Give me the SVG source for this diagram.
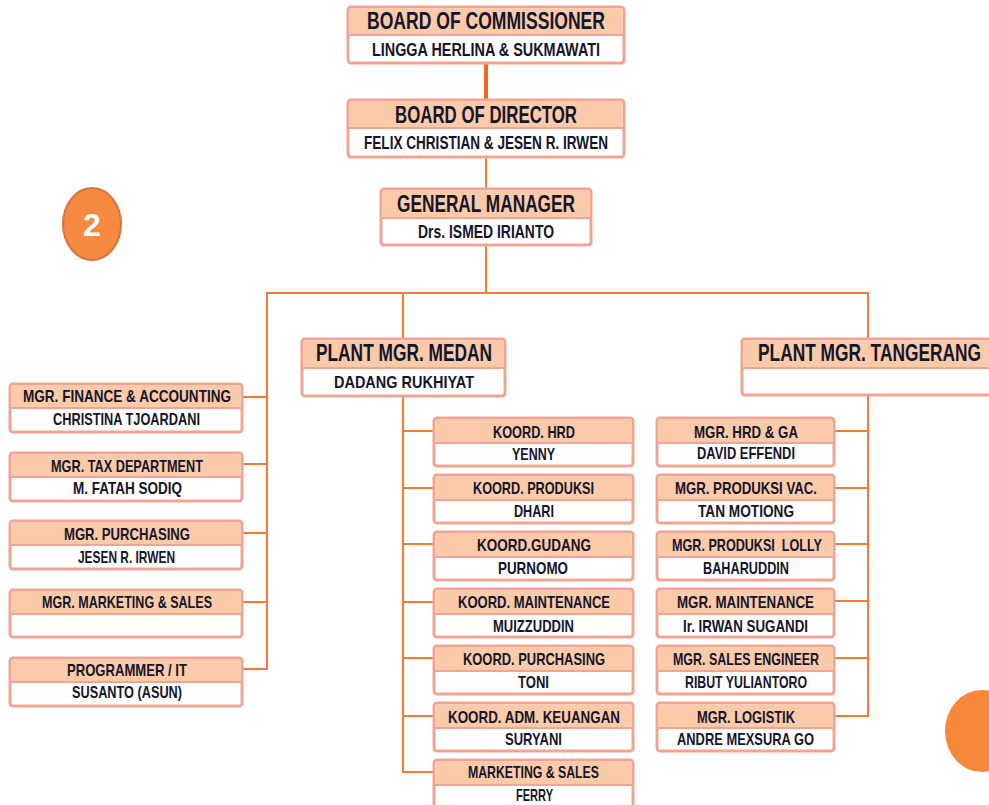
<svg xmlns="http://www.w3.org/2000/svg" width="989" height="805" viewBox="0 0 989 805">
<style>
.box{fill:#ffffff;stroke:#F1A494;stroke-width:3}
.hd{fill:#FBCBA9;stroke:none}
.dv{stroke:#F1A494;stroke-width:2}
.t{font-family:"Liberation Sans",Arial,sans-serif;font-weight:bold;fill:#15152a;text-anchor:middle}
.big{font-size:23px}
.mid{font-size:18px}
.sm{font-size:17px}
.ln{stroke:#F47A36;stroke-width:2;fill:none}
</style>
<rect width="989" height="805" fill="#ffffff"/>
<g id="connectors">
<line x1="486" y1="62" x2="486" y2="100" stroke="#F26A1E" stroke-width="4"/>
<line class="ln" x1="486" y1="157" x2="486" y2="189"/>
<line class="ln" x1="486" y1="245" x2="486" y2="293"/>
<line class="ln" x1="266" y1="293" x2="869" y2="293"/>
<line class="ln" x1="267" y1="293" x2="267" y2="670"/>
<line class="ln" x1="403" y1="293" x2="403" y2="339"/>
<line class="ln" x1="403" y1="396" x2="403" y2="773"/>
<line class="ln" x1="868" y1="293" x2="868" y2="339"/>
<line class="ln" x1="868" y1="395" x2="868" y2="717"/>
<path class="ln" d="M242 397H267M242 464H267M242 533H267M242 602H267M242 669H267"/>
<path class="ln" d="M403 431H434M403 488H434M403 544H434M403 602H434M403 658H434M403 716H434M403 772H434"/>
<path class="ln" d="M834 431H868M834 488H868M834 544H868M834 601H868M834 658H868M834 716H868"/>
</g>
<g id="badge2">
<ellipse cx="92" cy="224" rx="29" ry="36" fill="#F58A40" stroke="#D9733A" stroke-width="2"/>
<text x="92" y="236" font-family="Liberation Sans,Arial,sans-serif" font-size="32" font-weight="bold" fill="#ffffff" text-anchor="middle">2</text>
</g>
<g id="badge-right">
<ellipse cx="982" cy="731" rx="37" ry="41" fill="#F7883A"/>
</g>
<g id="board-commissioner">
<rect class="box" x="348" y="7" width="276" height="56" rx="3"/>
<rect class="hd" x="349.5" y="8.5" width="273" height="26.5"/>
<line class="dv" x1="348" y1="35" x2="624" y2="35"/>
<text class="t big" x="486" y="29" textLength="238" lengthAdjust="spacingAndGlyphs">BOARD OF COMMISSIONER</text>
<text class="t mid" x="486" y="56" textLength="228" lengthAdjust="spacingAndGlyphs">LINGGA HERLINA &amp; SUKMAWATI</text>
</g>
<g id="board-director">
<rect class="box" x="348" y="100" width="276" height="57" rx="3"/>
<rect class="hd" x="349.5" y="101.5" width="273" height="26.5"/>
<line class="dv" x1="348" y1="128" x2="624" y2="128"/>
<text class="t big" x="486" y="123" textLength="182" lengthAdjust="spacingAndGlyphs">BOARD OF DIRECTOR</text>
<text class="t mid" x="486" y="149" textLength="244" lengthAdjust="spacingAndGlyphs">FELIX CHRISTIAN &amp; JESEN R. IRWEN</text>
</g>
<g id="general-manager">
<rect class="box" x="381" y="189" width="210" height="56" rx="3"/>
<rect class="hd" x="382.5" y="190.5" width="207" height="27.5"/>
<line class="dv" x1="381" y1="218" x2="591" y2="218"/>
<text class="t big" x="486" y="212" textLength="178" lengthAdjust="spacingAndGlyphs">GENERAL MANAGER</text>
<text class="t mid" x="486" y="238" textLength="136" lengthAdjust="spacingAndGlyphs">Drs. ISMED IRIANTO</text>
</g>
<g id="plant-medan">
<rect class="box" x="302" y="339" width="203" height="57" rx="3"/>
<rect class="hd" x="303.5" y="340.5" width="200" height="27.5"/>
<line class="dv" x1="302" y1="368" x2="505" y2="368"/>
<text class="t big" x="404" y="361" textLength="176" lengthAdjust="spacingAndGlyphs">PLANT MGR. MEDAN</text>
<text class="t sm" x="404" y="388" textLength="140" lengthAdjust="spacingAndGlyphs">DADANG RUKHIYAT</text>
</g>
<g id="plant-tangerang">
<rect class="box" x="742" y="339" width="262" height="56" rx="3"/>
<rect class="hd" x="743.5" y="340.5" width="259" height="27.5"/>
<line class="dv" x1="742" y1="368" x2="1004" y2="368"/>
<text class="t big" x="869.5" y="361" textLength="223" lengthAdjust="spacingAndGlyphs">PLANT MGR. TANGERANG</text>
</g>
<g id="mgr-finance">
<rect class="box" x="10" y="384" width="232" height="48" rx="3"/>
<rect class="hd" x="11.5" y="385.5" width="229" height="22.5"/>
<line class="dv" x1="10" y1="408" x2="242" y2="408"/>
<text class="t sm" x="127" y="402" textLength="208" lengthAdjust="spacingAndGlyphs">MGR. FINANCE &amp; ACCOUNTING</text>
<text class="t sm" x="126.5" y="425" textLength="147" lengthAdjust="spacingAndGlyphs">CHRISTINA TJOARDANI</text>
</g>
<g id="mgr-tax">
<rect class="box" x="10" y="453" width="232" height="48" rx="3"/>
<rect class="hd" x="11.5" y="454.5" width="229" height="22.5"/>
<line class="dv" x1="10" y1="477" x2="242" y2="477"/>
<text class="t sm" x="127" y="472" textLength="152" lengthAdjust="spacingAndGlyphs">MGR. TAX DEPARTMENT</text>
<text class="t sm" x="127.5" y="494" textLength="109" lengthAdjust="spacingAndGlyphs">M. FATAH SODIQ</text>
</g>
<g id="mgr-purchasing">
<rect class="box" x="10" y="521" width="232" height="48" rx="3"/>
<rect class="hd" x="11.5" y="522.5" width="229" height="22.5"/>
<line class="dv" x1="10" y1="545" x2="242" y2="545"/>
<text class="t sm" x="127" y="540" textLength="126" lengthAdjust="spacingAndGlyphs">MGR. PURCHASING</text>
<text class="t sm" x="126.5" y="563" textLength="97" lengthAdjust="spacingAndGlyphs">JESEN R. IRWEN</text>
</g>
<g id="mgr-marketing">
<rect class="box" x="10" y="590" width="232" height="47" rx="3"/>
<rect class="hd" x="11.5" y="591.5" width="229" height="22.5"/>
<line class="dv" x1="10" y1="614" x2="242" y2="614"/>
<text class="t sm" x="127" y="608" textLength="170" lengthAdjust="spacingAndGlyphs">MGR. MARKETING &amp; SALES</text>
</g>
<g id="programmer-it">
<rect class="box" x="10" y="658" width="232" height="48" rx="3"/>
<rect class="hd" x="11.5" y="659.5" width="229" height="22.5"/>
<line class="dv" x1="10" y1="682" x2="242" y2="682"/>
<text class="t sm" x="127" y="676" textLength="120" lengthAdjust="spacingAndGlyphs">PROGRAMMER / IT</text>
<text class="t sm" x="127" y="698" textLength="110" lengthAdjust="spacingAndGlyphs">SUSANTO (ASUN)</text>
</g>
<g id="koord-hrd">
<rect class="box" x="434" y="418" width="199" height="48" rx="3"/>
<rect class="hd" x="435.5" y="419.5" width="196" height="23.5"/>
<line class="dv" x1="434" y1="443" x2="633" y2="443"/>
<text class="t sm" x="534" y="438" textLength="82" lengthAdjust="spacingAndGlyphs">KOORD. HRD</text>
<text class="t sm" x="533.5" y="460" textLength="43" lengthAdjust="spacingAndGlyphs">YENNY</text>
</g>
<g id="koord-produksi">
<rect class="box" x="434" y="475" width="199" height="48" rx="3"/>
<rect class="hd" x="435.5" y="476.5" width="196" height="23.5"/>
<line class="dv" x1="434" y1="500" x2="633" y2="500"/>
<text class="t sm" x="533.5" y="494" textLength="121" lengthAdjust="spacingAndGlyphs">KOORD. PRODUKSI</text>
<text class="t sm" x="534" y="517" textLength="40" lengthAdjust="spacingAndGlyphs">DHARI</text>
</g>
<g id="koord-gudang">
<rect class="box" x="434" y="532" width="199" height="48" rx="3"/>
<rect class="hd" x="435.5" y="533.5" width="196" height="23.5"/>
<line class="dv" x1="434" y1="557" x2="633" y2="557"/>
<text class="t sm" x="534" y="551" textLength="114" lengthAdjust="spacingAndGlyphs">KOORD.GUDANG</text>
<text class="t sm" x="533" y="574" textLength="70" lengthAdjust="spacingAndGlyphs">PURNOMO</text>
</g>
<g id="koord-maintenance">
<rect class="box" x="434" y="589" width="199" height="48" rx="3"/>
<rect class="hd" x="435.5" y="590.5" width="196" height="23.5"/>
<line class="dv" x1="434" y1="614" x2="633" y2="614"/>
<text class="t sm" x="534" y="608" textLength="152" lengthAdjust="spacingAndGlyphs">KOORD. MAINTENANCE</text>
<text class="t sm" x="533.5" y="632" textLength="81" lengthAdjust="spacingAndGlyphs">MUIZZUDDIN</text>
</g>
<g id="koord-purchasing">
<rect class="box" x="434" y="646" width="199" height="48" rx="3"/>
<rect class="hd" x="435.5" y="647.5" width="196" height="23.5"/>
<line class="dv" x1="434" y1="671" x2="633" y2="671"/>
<text class="t sm" x="534" y="665" textLength="142" lengthAdjust="spacingAndGlyphs">KOORD. PURCHASING</text>
<text class="t sm" x="533.5" y="688" textLength="31" lengthAdjust="spacingAndGlyphs">TONI</text>
</g>
<g id="koord-adm-keuangan">
<rect class="box" x="434" y="703" width="199" height="48" rx="3"/>
<rect class="hd" x="435.5" y="704.5" width="196" height="23.5"/>
<line class="dv" x1="434" y1="728" x2="633" y2="728"/>
<text class="t sm" x="534" y="723" textLength="172" lengthAdjust="spacingAndGlyphs">KOORD. ADM. KEUANGAN</text>
<text class="t sm" x="533.5" y="745" textLength="57" lengthAdjust="spacingAndGlyphs">SURYANI</text>
</g>
<g id="marketing-sales">
<rect class="box" x="434" y="760" width="199" height="48" rx="3"/>
<rect class="hd" x="435.5" y="761.5" width="196" height="23.5"/>
<line class="dv" x1="434" y1="785" x2="633" y2="785"/>
<text class="t sm" x="533.5" y="778" textLength="131" lengthAdjust="spacingAndGlyphs">MARKETING &amp; SALES</text>
<text class="t sm" x="534.5" y="801" textLength="37" lengthAdjust="spacingAndGlyphs">FERRY</text>
</g>
<g id="mgr-hrd-ga">
<rect class="box" x="657" y="418" width="177" height="48" rx="3"/>
<rect class="hd" x="658.5" y="419.5" width="174" height="23.5"/>
<line class="dv" x1="657" y1="443" x2="834" y2="443"/>
<text class="t sm" x="746" y="438" textLength="104" lengthAdjust="spacingAndGlyphs">MGR. HRD &amp; GA</text>
<text class="t sm" x="746" y="459" textLength="98" lengthAdjust="spacingAndGlyphs">DAVID EFFENDI</text>
</g>
<g id="mgr-produksi-vac">
<rect class="box" x="657" y="475" width="177" height="48" rx="3"/>
<rect class="hd" x="658.5" y="476.5" width="174" height="23.5"/>
<line class="dv" x1="657" y1="500" x2="834" y2="500"/>
<text class="t sm" x="746" y="494" textLength="142" lengthAdjust="spacingAndGlyphs">MGR. PRODUKSI VAC.</text>
<text class="t sm" x="746" y="517" textLength="96" lengthAdjust="spacingAndGlyphs">TAN MOTIONG</text>
</g>
<g id="mgr-produksi-lolly">
<rect class="box" x="657" y="532" width="177" height="48" rx="3"/>
<rect class="hd" x="658.5" y="533.5" width="174" height="23.5"/>
<line class="dv" x1="657" y1="557" x2="834" y2="557"/>
<text class="t sm" x="747" y="551" textLength="150" lengthAdjust="spacingAndGlyphs" xml:space="preserve">MGR. PRODUKSI  LOLLY</text>
<text class="t sm" x="746" y="574" textLength="86" lengthAdjust="spacingAndGlyphs">BAHARUDDIN</text>
</g>
<g id="mgr-maintenance">
<rect class="box" x="657" y="589" width="177" height="48" rx="3"/>
<rect class="hd" x="658.5" y="590.5" width="174" height="23.5"/>
<line class="dv" x1="657" y1="614" x2="834" y2="614"/>
<text class="t sm" x="745.5" y="608" textLength="137" lengthAdjust="spacingAndGlyphs">MGR. MAINTENANCE</text>
<text class="t sm" x="745.5" y="632" textLength="125" lengthAdjust="spacingAndGlyphs">Ir. IRWAN SUGANDI</text>
</g>
<g id="mgr-sales-engineer">
<rect class="box" x="657" y="646" width="177" height="48" rx="3"/>
<rect class="hd" x="658.5" y="647.5" width="174" height="23.5"/>
<line class="dv" x1="657" y1="671" x2="834" y2="671"/>
<text class="t sm" x="746" y="665" textLength="146" lengthAdjust="spacingAndGlyphs">MGR. SALES ENGINEER</text>
<text class="t sm" x="746" y="688" textLength="122" lengthAdjust="spacingAndGlyphs">RIBUT YULIANTORO</text>
</g>
<g id="mgr-logistik">
<rect class="box" x="657" y="703" width="177" height="48" rx="3"/>
<rect class="hd" x="658.5" y="704.5" width="174" height="23.5"/>
<line class="dv" x1="657" y1="728" x2="834" y2="728"/>
<text class="t sm" x="746" y="723" textLength="98" lengthAdjust="spacingAndGlyphs">MGR. LOGISTIK</text>
<text class="t sm" x="745.5" y="745" textLength="137" lengthAdjust="spacingAndGlyphs">ANDRE MEXSURA GO</text>
</g>
</svg>
